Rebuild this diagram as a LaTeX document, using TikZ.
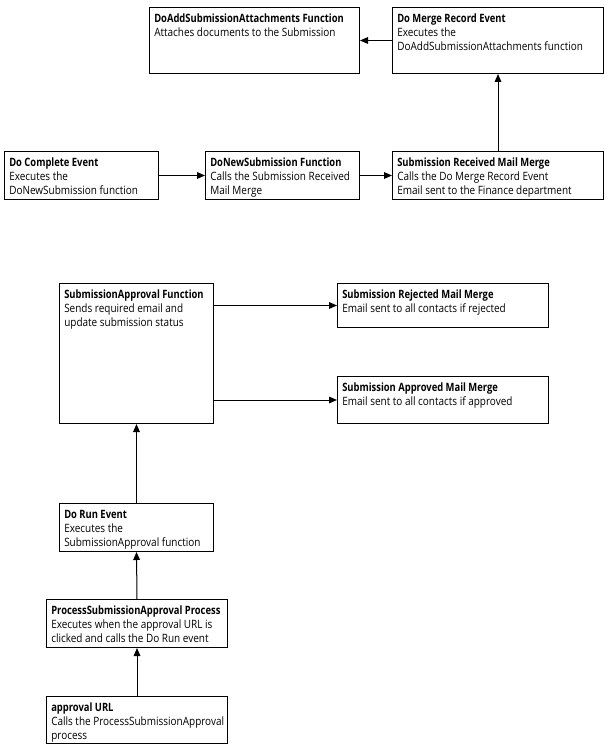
\documentclass[tikz,border=0pt]{standalone}
\usepackage{fontspec}
\setmainfont{Open Sans}[FakeStretch=0.87, BoldFeatures={FakeStretch=0.82}]
\usetikzlibrary{arrows.meta,calc}
\tikzset{
  x=0.75pt, y=-0.75pt,
  box/.style={draw=black, line width=0.75pt, rectangle, inner sep=0pt, anchor=north west},
  txt/.style={anchor=north west, inner sep=0pt, align=left, font=\fontsize{8.6pt}{10.5pt}\selectfont},
  arr/.style={draw=black, line width=0.75pt, -{Triangle[length=6pt,width=5pt]}}
}
\newcommand{\mybox}[7]{%
  \path let \p1=(#2,#3), \p2=(#4,#5) in
    node[box, minimum width=\x2-\x1, minimum height=\y1-\y2] (#1) at (#2,#3) {};
  \node[txt] (#1-t) at ([shift={(5,0)}]#1.north west) {\rule{0pt}{11.25pt}\textbf{#6}\\#7};
}
\begin{document}
\begin{tikzpicture}
\useasboundingbox[fill=white] (0,0) rectangle (616,752);
\mybox{addatt}{149}{7}{359}{73}{DoAddSubmissionAttachments Function}{Attaches documents to the Submission}
\mybox{merge}{392}{7}{603}{73}{Do Merge Record Event}{Executes the\\DoAddSubmissionAttachments function}
\mybox{complete}{4}{151}{158}{199}{Do Complete Event}{Executes the\\DoNewSubmission function}
\mybox{newsub}{205}{151}{359}{199}{DoNewSubmission Function}{Calls the Submission Received\\Mail Merge}
\mybox{recv}{392}{151}{603}{199}{Submission Received Mail Merge}{Calls the Do Merge Record Event\\Email sent to the Finance department}
\mybox{approvalfn}{59}{283}{213}{423}{SubmissionApproval Function}{Sends required email and\\update submission status}
\mybox{rejected}{337}{283}{548}{327}{Submission Rejected Mail Merge}{Email sent to all contacts if rejected}
\mybox{approved}{337}{376}{548}{423}{Submission Approved Mail Merge}{Email sent to all contacts if approved}
\mybox{dorun}{59}{503}{213}{551}{Do Run Event}{Executes the\\SubmissionApproval function}
\mybox{process}{46}{599}{227}{647}{ProcessSubmissionApproval Process}{Executes when the approval URL is\\clicked and calls the Do Run event}
\mybox{url}{46}{696}{227}{743}{approval URL}{Calls the ProcessSubmissionApproval\\process}

\draw[arr] (complete.east) -- (newsub.west);
\draw[arr] (newsub.east) -- (recv.west);
\draw[arr] (recv.north) -- (merge.south);
\draw[arr] (merge.west) -- (addatt.east);
\draw[arr] (approvalfn.east |- rejected.west) -- (rejected.west);
\draw[arr] (approvalfn.east |- approved.west) -- (approved.west);
\draw[arr] (dorun.north) -- (approvalfn.south);
\draw[arr] (process.north) -- (dorun.south);
\draw[arr] (url.north) -- (process.south);
\end{tikzpicture}
\end{document}
